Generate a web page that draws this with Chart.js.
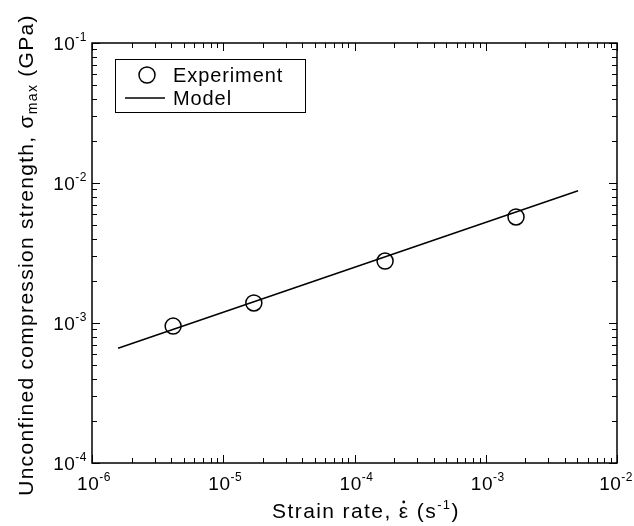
<!DOCTYPE html>
<html>
<head>
<meta charset="utf-8">
<script src="https://cdn.jsdelivr.net/npm/chart.js@4/dist/chart.umd.min.js"></script>
<style>
    body { margin: 0; background: #fff; }
    #wrap { width: 634px; height: 526px; }
</style>
</head>
<body>
<div id="wrap"><canvas id="strengthChart" width="634" height="526"></canvas></div>
<script>
// values
const strainRate = [4.15e-6, 1.71e-5, 1.71e-4, 1.70e-3];
const strength = [9.5e-4, 1.39e-3, 2.77e-3, 5.72e-3];
const modelRate = [1.58e-6, 5.05e-3];
const modelStrength = [6.6e-4, 8.8e-3];

const xTicks = [1e-6, 1e-5, 1e-4, 1e-3, 1e-2];
const xExponents = ['-6', '-5', '-4', '-3', '-2'];
const yTicks = [1e-4, 1e-3, 1e-2, 1e-1];
const yExponents = ['-4', '-3', '-2', '-1'];

const FONT = '"Liberation Sans", Arial, Helvetica, sans-serif';

function font(size) {
    return size + 'px ' + FONT;
}

// write pieces one after another: [text, size, dy]
function drawRun(ctx, parts, x, y, spacing, align) {
    ctx.letterSpacing = spacing + 'px';
    const widths = parts.map(p => {
        ctx.font = font(p[1]);
        return ctx.measureText(p[0]).width;
    });
    const total = widths.reduce((s, w) => s + w, 0);
    let left = x;
    if (align === 'right') left = x - total;
    if (align === 'center') left = x - total / 2;
    if (left + total > 633) left = 633 - total;
    ctx.textAlign = 'left';
    ctx.textBaseline = 'alphabetic';
    const starts = [];
    parts.forEach((p, i) => {
        ctx.font = font(p[1]);
        starts.push(left);
        ctx.fillText(p[0], left, y + p[2]);
        left += widths[i];
    });
    ctx.letterSpacing = '0px';
    return { starts: starts, widths: widths };
}

function drawPower(ctx, base, exp, x, y, align) {
    drawRun(ctx, [[base, 19, 0], [exp, 12, -9]], x, y, 0.5, align);
}

function minorValues(min, max) {
    const out = [];
    for (let d = Math.round(Math.log10(min)); d < Math.round(Math.log10(max)); d++) {
        for (let k = 1; k <= 9; k++) {
            out.push({ v: k * Math.pow(10, d), major: k === 1 });
        }
    }
    out.push({ v: max, major: true });
    return out;
}

const framePlugin = {
    id: 'frame',
    afterDraw(chart) {
        const ctx = chart.ctx;
        const a = chart.chartArea;
        const xs = chart.scales.x;
        const ys = chart.scales.y;
        ctx.save();
        ctx.strokeStyle = '#000';
        ctx.fillStyle = '#000';

        // inward ticks on all four sides
        ctx.lineWidth = 1;
        minorValues(xs.min, xs.max).forEach(t => {
            const px = Math.round(xs.getPixelForValue(t.v)) + 0.5;
            const len = t.major ? 8 : 5;
            ctx.beginPath();
            ctx.moveTo(px, a.bottom); ctx.lineTo(px, a.bottom - len);
            ctx.moveTo(px, a.top); ctx.lineTo(px, a.top + len);
            ctx.stroke();
        });
        minorValues(ys.min, ys.max).forEach(t => {
            const py = Math.round(ys.getPixelForValue(t.v)) + 0.5;
            const len = t.major ? 8 : 5;
            ctx.beginPath();
            ctx.moveTo(a.left, py); ctx.lineTo(a.left + len, py);
            ctx.moveTo(a.right, py); ctx.lineTo(a.right - len, py);
            ctx.stroke();
        });

        ctx.lineWidth = 1.5;
        ctx.strokeRect(a.left, a.top, a.right - a.left, a.bottom - a.top);

        // tick labels
        xTicks.forEach((v, i) => {
            drawPower(ctx, '10', xExponents[i], xs.getPixelForValue(v) + 2, a.bottom + 27, 'center');
        });
        yTicks.forEach((v, i) => {
            drawPower(ctx, '10', yExponents[i], a.left - 5, ys.getPixelForValue(v) + 7, 'right');
        });

        // x title: Strain rate, ε̇ (s^-1)
        const run = drawRun(ctx, [
            ['Strain rate, ', 21, 0],
            ['ε', 21, 0],
            [' (s', 21, 0],
            ['-1', 13, -9],
            [')', 21, 0]
        ], 366, 518, 1.4, 'center');
        ctx.beginPath();
        ctx.arc(run.starts[1] + run.widths[1] / 2 - 0.5, 518 - 16, 1.4, 0, Math.PI * 2);
        ctx.fill();

        // y title, rotated
        ctx.save();
        ctx.translate(33, 255);
        ctx.rotate(-Math.PI / 2);
        drawRun(ctx, [
            ['Unconfined compression strength, σ', 21, 0],
            ['max', 14, 4],
            [' (GPa)', 21, 0]
        ], 0, 0, 1.3, 'center');
        ctx.restore();

        // legend
        const ds = chart.data.datasets;
        ctx.lineWidth = 1;
        ctx.strokeRect(115.5, 59.5, 190, 53);
        ctx.lineWidth = 1.5;
        ctx.beginPath();
        ctx.arc(147, 75, 8, 0, Math.PI * 2);
        ctx.stroke();
        ctx.beginPath();
        ctx.moveTo(125, 98);
        ctx.lineTo(165, 98);
        ctx.stroke();
        drawRun(ctx, [[ds[0].label, 20, 0]], 173, 82, 0.9, 'left');
        drawRun(ctx, [[ds[1].label, 20, 0]], 173, 105, 0.9, 'left');

        ctx.restore();
    }
};

function initializeChart() {
    const canvas = document.getElementById('strengthChart');
    const ctx = canvas.getContext('2d');
    const hideSize = s => { s.width = s.isHorizontal() ? s.width : 0; s.height = s.isHorizontal() ? 0 : s.height; };

    window.strengthChart = new Chart(ctx, {
        type: 'scatter',
        data: {
            datasets: [{
                label: 'Experiment',
                data: strainRate.map((x, i) => ({ x: x, y: strength[i] })),
                pointStyle: 'circle',
                pointRadius: 8,
                pointBorderWidth: 1.5,
                borderColor: '#000',
                backgroundColor: 'rgba(0,0,0,0)',
                showLine: false
            }, {
                label: 'Model',
                data: modelRate.map((x, i) => ({ x: x, y: modelStrength[i] })),
                showLine: true,
                pointRadius: 0,
                borderColor: '#000',
                borderWidth: 1.5,
                backgroundColor: 'rgba(0,0,0,0)'
            }]
        },
        options: {
            responsive: false,
            animation: false,
            devicePixelRatio: 1,
            layout: { padding: { left: 92, right: 17, top: 43, bottom: 63 } },
            plugins: {
                legend: { display: false },
                tooltip: { enabled: false }
            },
            scales: {
                x: {
                    type: 'logarithmic',
                    min: 1e-6,
                    max: 1e-2,
                    grid: { display: false },
                    border: { display: false },
                    ticks: { display: false },
                    afterFit: hideSize
                },
                y: {
                    type: 'logarithmic',
                    min: 1e-4,
                    max: 1e-1,
                    grid: { display: false },
                    border: { display: false },
                    ticks: { display: false },
                    afterFit: hideSize
                }
            }
        },
        plugins: [framePlugin]
    });
}

document.addEventListener('DOMContentLoaded', function() {
    initializeChart();
});
</script>
</body>
</html>
